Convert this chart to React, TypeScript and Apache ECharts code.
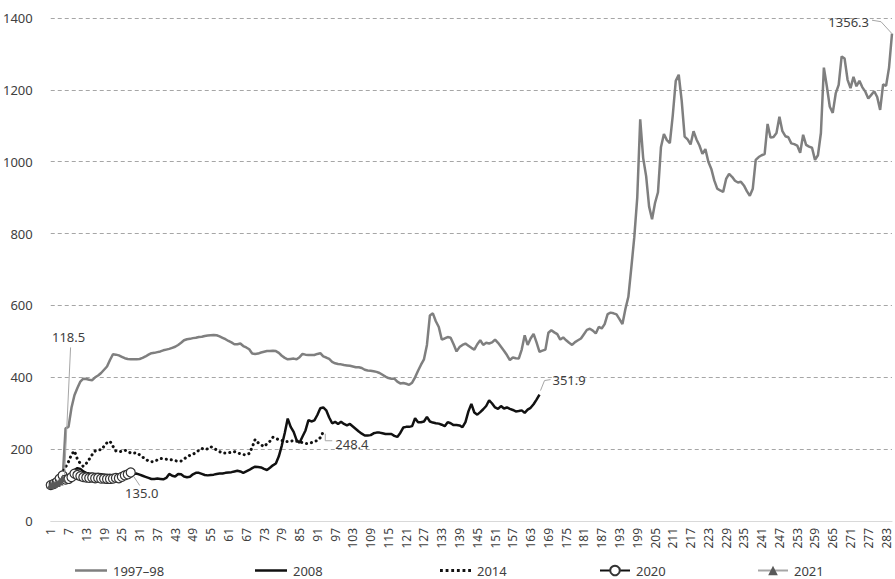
import React, { useEffect, useRef } from "react";
import * as echarts from "echarts";

const categories: string[] = Array.from({ length: 285 }, (_, i) => String(i + 1));

const seriesNames = ["1997–98", "2008", "2014", "2020", "2021"];

const s1997: number[] = [
  100, 102, 104, 108, 113, 258, 262, 315, 350, 370,
  388, 396, 395, 393, 392, 400, 405, 412, 421, 430,
  448, 464, 463, 461, 457, 453, 451, 450, 450, 450,
  451, 454, 458, 463, 467, 468, 470, 472, 475, 477,
  479, 482, 485, 490, 496, 503, 506, 507, 509, 510,
  512, 513, 515, 516, 517, 518, 517, 514, 510, 506,
  501, 497, 492, 492, 494, 487, 483, 478, 466, 465,
  466, 469, 471, 473, 473, 474, 473, 468, 460, 454,
  450, 451, 452, 450, 456, 465, 463, 462, 462, 462,
  465, 467, 458, 455, 451, 443, 439, 437, 436, 434,
  433, 432, 430, 428, 428, 426, 421, 419, 418, 417,
  415, 412, 407, 402, 398, 396, 396, 388, 383, 384,
  382, 379, 385, 400, 418, 435, 450, 490, 572, 578,
  556, 540, 505, 508, 512, 510, 492, 472, 484, 490,
  494, 488, 482, 477, 492, 503, 490, 496, 494, 497,
  505, 496, 485, 474, 462, 448, 455, 453, 452, 477,
  517, 490, 508, 521, 497, 471, 474, 477, 524, 531,
  525, 520, 505, 511, 503, 496, 490, 498, 503, 508,
  520, 532, 535, 530, 522, 540, 536, 548, 576, 580,
  578, 575, 562, 548, 590, 624, 705, 790, 900, 1118,
  1010, 960, 875, 840, 885, 915, 1040, 1077, 1060, 1052,
  1130, 1225, 1242, 1170, 1070, 1062, 1048, 1085, 1062, 1045,
  1022, 1035, 1000, 980, 948, 925, 920, 916, 952, 966,
  958, 947, 942, 944, 934, 918, 905, 925, 1005, 1013,
  1018, 1021, 1105, 1067, 1069, 1080, 1125, 1085, 1071, 1068,
  1051, 1049, 1045, 1025, 1075, 1047, 1042, 1039, 1005, 1018,
  1080, 1262, 1210, 1153, 1136, 1190, 1214, 1293, 1287, 1228,
  1205, 1236, 1210, 1225, 1207, 1195, 1176, 1186, 1196, 1180,
  1144, 1215, 1211, 1262, 1356.3,
];

const s2008: number[] = [
  100, 103, 106, 108, 112, 118, 125, 133, 142, 147,
  145, 138, 134, 132, 131, 131, 131, 130, 129, 128,
  128, 127, 128, 128, 129, 131, 133, 133, 131, 132,
  129, 126, 123, 120, 117, 117, 118, 117, 116, 120,
  131, 126, 124, 131, 130, 124, 122, 123, 130, 134,
  134, 131, 128, 127, 128, 129, 131, 132, 132, 134,
  135, 136, 138, 140, 138, 134, 138, 142, 147, 151,
  150, 149, 145, 142, 148, 155, 160, 180, 210, 245,
  285, 262, 248, 225, 218, 235, 252, 281, 277, 280,
  295, 314, 316, 308, 288, 272, 276, 270, 276, 270,
  266, 270, 263, 256, 249, 243, 238, 238, 239, 244,
  246, 246, 244, 242, 242, 242, 237, 234, 245, 260,
  262, 262, 264, 286, 275, 275, 277, 290, 277, 274,
  272, 271, 268, 264, 275, 272, 267, 267, 266, 261,
  275, 305, 326, 302, 296, 303, 311, 320, 336, 327,
  316, 312, 320, 313, 316, 312, 309, 305, 306, 308,
  301, 310, 315, 325, 338, 351.9,
];

const s2014: number[] = [
  100, 104, 110, 122, 135, 150, 165, 185, 195, 172,
  160, 152, 160, 172, 185, 195, 198, 198, 208, 218,
  222, 208, 195, 193, 194, 197, 194, 189, 189, 190,
  184, 178, 172, 167, 165, 166, 170, 174, 173, 172,
  171, 170, 168, 166, 167, 173, 178, 183, 186, 190,
  197, 202, 199, 201, 207, 202, 198, 193, 189, 189,
  190, 191, 193, 190, 187, 185, 184, 188, 205, 227,
  218, 212, 207, 215, 222, 233, 230, 226, 224, 221,
  221, 222, 224, 222, 221, 218, 216, 216, 218, 221,
  224, 232, 248.4,
];

const s2020: number[] = [
  100, 103, 108, 118, 127, 115, 117, 122, 132, 128,
  125, 122, 121, 120, 121, 119, 120, 118, 118, 117,
  117, 118, 120, 119, 123, 127, 130, 135.0,
];

const s2021: number[] = [100, 103, 106, 110, 118.5];

const yTicks = { min: 0, max: 1400, interval: 200 };

export default function App() {
  const ref = useRef<HTMLDivElement>(null);
  useEffect(() => {
    document.body.style.margin = "0";
    const chart = echarts.init(ref.current!, null, { renderer: "svg" });
    const font = "'Noto Sans', sans-serif";
    const txt = "#404040";
    const legendCfg = [
      { left: 75, icon: "rect", w: 32, h: 2.5 },
      { left: 255, icon: "rect", w: 32, h: 2.5 },
      { left: 440, icon: "path://M0,0h1v1h-1z M2,0h1v1h-1z M4,0h1v1h-1z M6,0h1v1h-1z M8,0h1v1h-1z M10,0h1v1h-1z", w: 31, h: 3 },
      { left: 599, icon: undefined, w: 30, h: 12 },
      { left: 757, icon: undefined, w: 30, h: 12 },
    ];
    chart.setOption({
      animation: false,
      backgroundColor: "#ffffff",
      textStyle: { fontFamily: font },
      grid: { left: 50, right: 3, top: 18, bottom: 58, containLabel: false },
      legend: seriesNames.map((n, k) => {
        const c = legendCfg[k];
        const item: any = { name: n };
        if (c.icon) item.icon = c.icon;
        return {
          data: [item],
          left: c.left,
          top: 563,
          padding: 0,
          itemWidth: c.w,
          itemHeight: c.h,
          itemGap: 4,
          textStyle: { color: txt, fontSize: 13, fontFamily: font, lineHeight: 15, padding: [0, 0, 0, 1] },
        };
      }),
      xAxis: {
        type: "category",
        data: categories,
        boundaryGap: false,
        axisTick: { show: false },
        axisLine: { lineStyle: { color: "#d9d9d9", width: 1 } },
        axisLabel: { rotate: 90, interval: 5, color: txt, fontSize: 12, margin: 7, fontFamily: font },
        splitLine: { show: false },
      },
      yAxis: {
        type: "value",
        min: yTicks.min,
        max: yTicks.max,
        interval: yTicks.interval,
        axisLine: { show: false },
        axisTick: { show: false },
        axisLabel: { color: txt, fontSize: 13, margin: 18, fontFamily: font, formatter: (v: number) => String(v) },
        splitLine: { show: true, showMinLine: false, lineStyle: { color: "#a6a6a6", type: [4, 3], width: 1 } },
      },
      series: [
        {
          name: seriesNames[0],
          type: "line",
          data: s1997,
          symbol: "none",
          lineStyle: { color: "#7f7f7f", width: 2.5 },
          itemStyle: { color: "#7f7f7f" },
        },
        {
          name: seriesNames[1],
          type: "line",
          data: s2008,
          symbol: "none",
          lineStyle: { color: "#111111", width: 2.5 },
          itemStyle: { color: "#111111" },
        },
        {
          name: seriesNames[2],
          type: "line",
          data: s2014,
          symbol: "none",
          lineStyle: { color: "#111111", width: 3, type: [0.1, 4.9], cap: "round" },
          itemStyle: { color: "#111111" },
        },
        {
          name: seriesNames[3],
          type: "line",
          data: s2020,
          symbol: "circle",
          symbolSize: 9,
          showAllSymbol: true,
          lineStyle: { color: "#111111", width: 2.5 },
          itemStyle: { color: "#ffffff", borderColor: "#333333", borderWidth: 1.2 },
        },
        {
          name: seriesNames[4],
          type: "line",
          data: s2021,
          symbol: "triangle",
          symbolSize: 8,
          showAllSymbol: true,
          lineStyle: { color: "#a6a6a6", width: 2 },
          itemStyle: { color: "#595959" },
        },
      ],
    });

    const px = (i: number, v: number) => chart.convertToPixel({ gridIndex: 0 }, [i - 1, v]) as number[];
    const lead = "#a6a6a6";
    const p21 = px(s2021.length, s2021[s2021.length - 1]);
    const p20 = px(s2020.length, s2020[s2020.length - 1]);
    const p14 = px(s2014.length, s2014[s2014.length - 1]);
    const p08 = px(s2008.length, s2008[s2008.length - 1]);
    const p97 = px(s1997.length, s1997[s1997.length - 1]);
    const lbl = (x: number, y: number, text: string, align: string) => ({
      type: "text",
      x,
      y,
      z: 10,
      style: { text, fill: txt, fontSize: 13, fontFamily: font, align, verticalAlign: "middle" },
    });
    const pl = (pts: number[][]) => ({
      type: "polyline",
      z: 10,
      shape: { points: pts },
      style: { stroke: lead, lineWidth: 1, fill: "none" },
    });
    chart.setOption({
      graphic: [
        pl([[p21[0] + 2, p21[1] - 4], [p21[0] + 8, p21[1] - 131]]),
        lbl(p21[0] + 6, p21[1] - 141, s2021[s2021.length - 1].toFixed(1), "center"),
        pl([[p20[0] + 3, p20[1] + 4], [p20[0] + 9, p20[1] + 13]]),
        lbl(p20[0] + 11, p20[1] + 21, s2020[s2020.length - 1].toFixed(1), "center"),
        pl([[p14[0] + 2, p14[1] + 2], [p14[0] + 2, p14[1] + 9], [p14[0] + 9, p14[1] + 9]]),
        lbl(p14[0] + 12, p14[1] + 12, s2014[s2014.length - 1].toFixed(1), "left"),
        pl([[p08[0] + 1, p08[1] - 4], [p08[0] + 5, p08[1] - 14], [p08[0] + 11, p08[1] - 15]]),
        lbl(p08[0] + 13, p08[1] - 15, s2008[s2008.length - 1].toFixed(1), "left"),
        pl([[p97[0] - 20, p97[1] - 13.5], [p97[0] - 11, p97[1] - 12], [p97[0], p97[1]]]),
        lbl(p97[0] - 23, p97[1] - 12, s1997[s1997.length - 1].toFixed(1), "right"),
      ],
    });
    return () => chart.dispose();
  }, []);
  return <div ref={ref} style={{ width: 895, height: 579 }} />;
}
